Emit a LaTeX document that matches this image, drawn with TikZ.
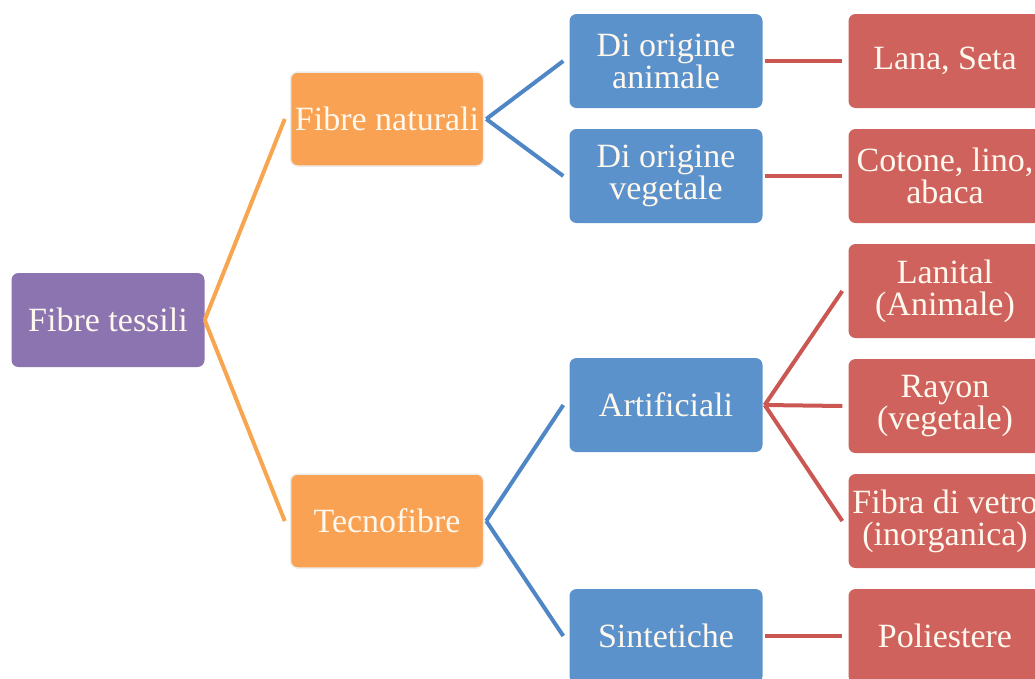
\documentclass[tikz,border=0pt]{standalone}
\usepackage{fontspec}
\setmainfont{Liberation Serif}
\definecolor{cpurple}{HTML}{8C74B1}
\definecolor{corange}{HTML}{F9A253}
\definecolor{cblue}{HTML}{5B92CB}
\definecolor{cred}{HTML}{CF625C}
\definecolor{lorange}{HTML}{F7A64F}
\definecolor{lblue}{HTML}{4F86C6}
\definecolor{lred}{HTML}{CB5753}
\definecolor{ctext}{HTML}{FFF8EE}
\begin{document}
\begin{tikzpicture}[x=1pt,y=-1pt,
  box/.style={rectangle, rounded corners=7pt, minimum width=193pt, minimum height=94pt,
    inner sep=0pt, align=center, text=ctext, font=\fontsize{34}{32}\selectfont},
  pbox/.style={box, fill=cpurple},
  obox/.style={box, fill=corange, draw=black!7, line width=1.5pt},
  bbox/.style={box, fill=cblue},
  rbox/.style={box, fill=cred},
  oline/.style={draw=lorange, line width=4pt},
  bline/.style={draw=lblue, line width=4pt},
  rline/.style={draw=lred, line width=4pt}]
\useasboundingbox (0,0) rectangle (1035,678);
\clip (0,0) rectangle (1035,678);
\fill[white] (0,0) rectangle (1035,678);

\node[pbox] (tess) at (108,320) {Fibre tessili};
\node[obox] (nat) at (387,119) {Fibre naturali};
\node[obox] (tec) at (387,521) {Tecnofibre};
\node[bbox] (ani) at (666,61) {Di origine\\animale};
\node[bbox] (veg) at (666,176) {Di origine\\vegetale};
\node[bbox] (art) at (666,405) {Artificiali};
\node[bbox] (sin) at (666,636) {Sintetiche};
\node[rbox] (lana) at (945,61) {Lana, Seta};
\node[rbox] (coto) at (945,176) {Cotone, lino,\\abaca};
\node[rbox] (lani) at (945,291) {Lanital\\(Animale)};
\node[rbox] (rayo) at (945,406) {Rayon\\(vegetale)};
\node[rbox] (vetr) at (945,521) {Fibra di vetro\\(inorganica)};
\node[rbox] (poli) at (945,636) {Poliestere};

\draw[oline] (tess.east) -- ([xshift=-5pt]nat.west);
\draw[oline] (tess.east) -- ([xshift=-5pt]tec.west);
\draw[bline] ([xshift=2pt]nat.east) -- ([xshift=-6pt]ani.west);
\draw[bline] ([xshift=2pt]nat.east) -- ([xshift=-6pt]veg.west);
\draw[bline] ([xshift=2pt]tec.east) -- ([xshift=-6pt]art.west);
\draw[bline] ([xshift=2pt]tec.east) -- ([xshift=-6pt]sin.west);
\draw[rline] ([xshift=2pt]ani.east) -- ([xshift=-6pt]lana.west);
\draw[rline] ([xshift=2pt]veg.east) -- ([xshift=-6pt]coto.west);
\draw[rline] ([xshift=2pt]art.east) -- ([xshift=-6pt]lani.west);
\draw[rline] ([xshift=2pt]art.east) -- ([xshift=-6pt]rayo.west);
\draw[rline] ([xshift=2pt]art.east) -- ([xshift=-6pt]vetr.west);
\draw[rline] ([xshift=2pt]sin.east) -- ([xshift=-6pt]poli.west);
\end{tikzpicture}
\end{document}
